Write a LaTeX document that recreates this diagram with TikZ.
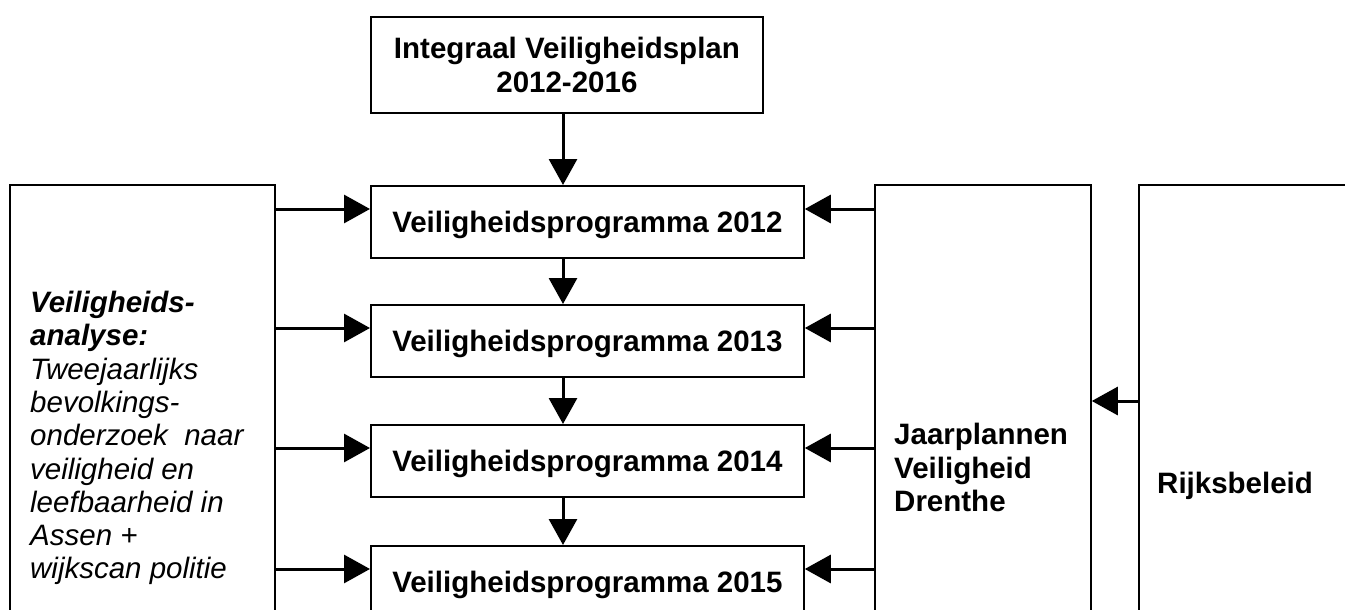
\documentclass[tikz,border=0pt]{standalone}
\usepackage{fontspec}
\setmainfont{Liberation Sans}
\usetikzlibrary{arrows.meta}
\begin{document}
\begin{tikzpicture}[x=1pt,y=-1pt,
  frame/.style={draw, line width=1.8pt, inner sep=0pt, anchor=north west},
  prog/.style={frame, minimum width=433pt, minimum height=72pt,
    font=\fontsize{29.5}{33.5}\selectfont\bfseries, text height=21pt, text depth=0pt},
  tall/.style={frame, minimum height=520pt},
  txt/.style={inner sep=0pt, font=\fontsize{29.5}{33.3}\selectfont},
  arr/.style={line width=3pt, -{Triangle[length=26pt,width=28pt]}}]
\useasboundingbox (0,0) rectangle (1345,610);
\clip (0,0) rectangle (1345,610);
% boxes
\node[frame, minimum width=392pt, minimum height=96pt, align=center,
  font=\fontsize{29.5}{33.5}\selectfont\bfseries] (top) at (370,16)
  {Integraal Veiligheidsplan\\2012-2016};
\node[prog] (p12) at (370,185) {Veiligheidsprogramma 2012};
\node[prog] (p13) at (370,304) {Veiligheidsprogramma 2013};
\node[prog] (p14) at (370,424) {Veiligheidsprogramma 2014};
\node[prog] (p15) at (370,545) {Veiligheidsprogramma 2015};
\node[tall, minimum width=265pt] (left) at (9,184) {};
\node[tall, minimum width=216pt] (jaar) at (874,184) {};
\node[tall, minimum width=300pt] (rijks) at (1138,184) {};
% texts
\node[txt, anchor=north west, align=left] (lefttext) at (30,291)
  {\textbf{\itshape Veiligheids-}\\\textbf{\itshape analyse:}\\\itshape Tweejaarlijks\\\itshape bevolkings-\\\itshape onderzoek~~naar\\\itshape veiligheid en\\\itshape leefbaarheid in\\\itshape Assen +\\\itshape wijkscan politie};
\node[txt, anchor=north west, align=left, font=\fontsize{29.5}{33.5}\selectfont\bfseries] (jaartext) at (894,423)
  {Jaarplannen\\Veiligheid\\Drenthe};
\node[txt, anchor=base west, font=\fontsize{29.5}{33.5}\selectfont\bfseries] (rijkstext) at (1157,493) {Rijksbeleid};
% helper coordinates
\coordinate (ax) at (563,0);
\coordinate (r12) at (0,209);
\coordinate (r13) at (0,328);
\coordinate (r14) at (0,448);
\coordinate (r15) at (0,569);
\coordinate (rr) at (0,401);
% vertical arrows
\draw[arr] (top.south -| ax) -- (p12.north -| ax);
\draw[arr] (p12.south -| ax) -- (p13.north -| ax);
\draw[arr] (p13.south -| ax) -- (p14.north -| ax);
\draw[arr] (p14.south -| ax) -- (p15.north -| ax);
% horizontal arrows
\foreach \r/\p in {r12/p12,r13/p13,r14/p14,r15/p15}{
  \draw[arr] (left.east |- \r) -- (\p.west |- \r);
  \draw[arr] (jaar.west |- \r) -- (\p.east |- \r);
}
\draw[arr] (rijks.west |- rr) -- (jaar.east |- rr);
\end{tikzpicture}
\end{document}
